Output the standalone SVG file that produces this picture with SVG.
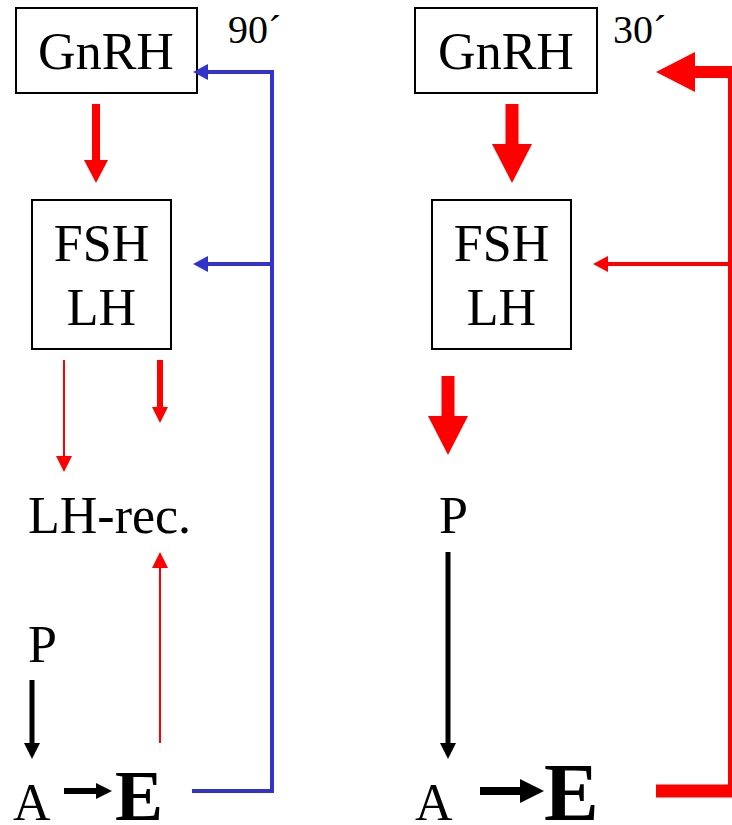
<svg xmlns="http://www.w3.org/2000/svg" width="732" height="825" viewBox="0 0 732 825">
<style>
.t{font-family:"Liberation Serif","Times New Roman",serif;font-size:52px;fill:#000}
.s{font-size:40px}
.b{font-weight:bold}
.box{fill:#fff;stroke:#000;stroke-width:2}
.red{stroke:#ff0000;fill:none}
.blk{stroke:#000;fill:none}
.blu{stroke:#3333cc;fill:none}
</style>
<defs>
<marker id="rS" markerUnits="userSpaceOnUse" markerWidth="16" markerHeight="16" refX="0" refY="8" orient="auto"><path d="M0,0 L16,8 L0,16 z" fill="#ff0000"/></marker>
<marker id="rM" markerUnits="userSpaceOnUse" markerWidth="24" markerHeight="24" refX="0" refY="12" orient="auto"><path d="M0,0 L23,12 L0,24 z" fill="#ff0000"/></marker>
<marker id="rL" markerUnits="userSpaceOnUse" markerWidth="40" markerHeight="40" refX="0" refY="20" orient="auto"><path d="M0,0 L39,20 L0,40 z" fill="#ff0000"/></marker>
<marker id="rF" markerUnits="userSpaceOnUse" markerWidth="15" markerHeight="16" refX="0" refY="8" orient="auto"><path d="M0,0 L15,8 L0,16 z" fill="#ff0000"/></marker>
<marker id="kS" markerUnits="userSpaceOnUse" markerWidth="16" markerHeight="16" refX="0" refY="8" orient="auto"><path d="M0,0 L16,8 L0,16 z" fill="#000"/></marker>
<marker id="kM" markerUnits="userSpaceOnUse" markerWidth="24" markerHeight="24" refX="0" refY="12" orient="auto"><path d="M0,0 L24,12 L0,24 z" fill="#000"/></marker>
<marker id="bS" markerUnits="userSpaceOnUse" markerWidth="16" markerHeight="16" refX="0" refY="8" orient="auto"><path d="M0,0 L15,8 L0,16 z" fill="#3333cc"/></marker>
</defs>

<g id="gnrh-left"><rect class="box" x="16" y="8" width="181" height="85"/><text class="t" x="106" y="69" text-anchor="middle">GnRH</text></g>
<g id="label-90"><text class="t s" x="228" y="43">90´</text></g>
<g id="fshlh-left"><rect class="box" x="32" y="200" width="139" height="149"/><text class="t" x="101.5" y="261" text-anchor="middle">FSH</text><text class="t" x="101.5" y="325" text-anchor="middle">LH</text></g>
<g id="lhrec-left"><text class="t" x="28" y="533">LH-rec.</text></g>
<g id="p-left"><text class="t" x="28" y="662">P</text></g>
<g id="a-left"><text class="t" x="13" y="820">A</text></g>
<g id="e-left"><text class="t b" x="115" y="820" style="font-size:72px">E</text></g>

<g id="gnrh-right"><rect class="box" x="415" y="8" width="182" height="85"/><text class="t" x="506" y="69" text-anchor="middle">GnRH</text></g>
<g id="label-30"><text class="t s" x="613" y="43">30´</text></g>
<g id="fshlh-right"><rect class="box" x="432" y="200" width="139" height="149"/><text class="t" x="501.5" y="261" text-anchor="middle">FSH</text><text class="t" x="501.5" y="325" text-anchor="middle">LH</text></g>
<g id="p-right"><text class="t" x="439" y="533">P</text></g>
<g id="a-right"><text class="t" x="415" y="820">A</text></g>
<g id="e-right"><text class="t b" x="544" y="820" style="font-size:82px">E</text></g>

<g id="connectors">
<line class="red" x1="96" y1="104" x2="96" y2="160" stroke-width="8" marker-end="url(#rM)"/>
<line class="red" x1="64" y1="360" x2="64" y2="456" stroke-width="2" marker-end="url(#rS)"/>
<line class="red" x1="160" y1="360" x2="160" y2="407" stroke-width="6" marker-end="url(#rS)"/>
<line class="red" x1="160" y1="743" x2="160" y2="568" stroke-width="2" marker-end="url(#rS)"/>
<line class="blk" x1="32" y1="680" x2="32" y2="743" stroke-width="5" marker-end="url(#kS)"/>
<line class="blk" x1="64" y1="791" x2="96" y2="791" stroke-width="6" marker-end="url(#kS)"/>
<path class="blu" d="M192,791 H272 V72 H208" stroke-width="4" marker-end="url(#bS)"/>
<line class="blu" x1="272" y1="264" x2="208" y2="264" stroke-width="4" marker-end="url(#bS)"/>

<line class="red" x1="512" y1="104" x2="512" y2="144" stroke-width="13" marker-end="url(#rL)"/>
<line class="red" x1="448" y1="376" x2="448" y2="416" stroke-width="13" marker-end="url(#rL)"/>
<line class="blk" x1="448" y1="552" x2="448" y2="743" stroke-width="5" marker-end="url(#kS)"/>
<line class="blk" x1="480" y1="791" x2="520" y2="791" stroke-width="8" marker-end="url(#kM)"/>
<line class="red" x1="656" y1="791" x2="732" y2="791" stroke-width="13"/>
<line class="red" x1="730" y1="66" x2="730" y2="797" stroke-width="4"/>
<line class="red" x1="732" y1="72" x2="695" y2="72" stroke-width="12" marker-end="url(#rL)"/>
<line class="red" x1="730" y1="264" x2="608" y2="264" stroke-width="4" marker-end="url(#rF)"/>
</g>
</svg>
